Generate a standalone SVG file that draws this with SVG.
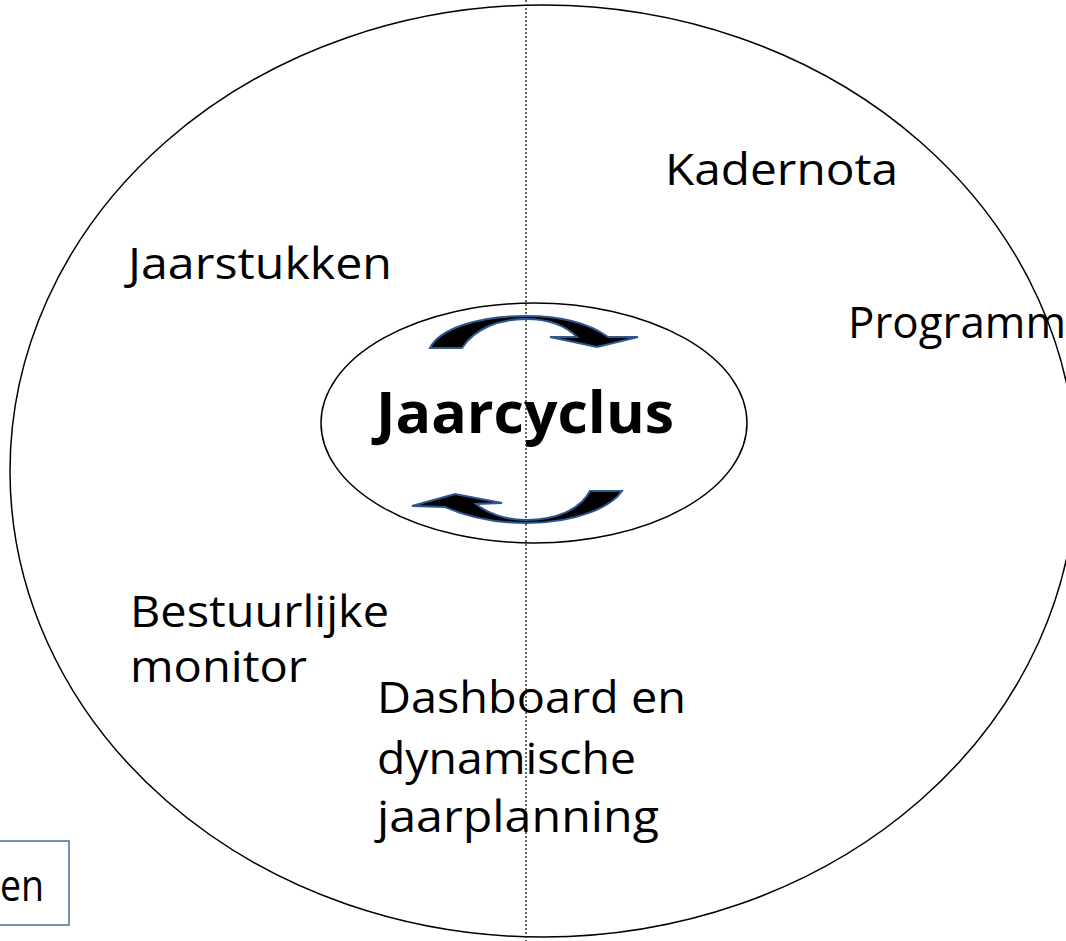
<svg xmlns="http://www.w3.org/2000/svg" width="1066" height="941" viewBox="0 0 1066 941">
<style>
.t{font-family:"Open Sans","Noto Sans","Liberation Sans",sans-serif;font-size:43px;fill:#000}
.b{font-family:"Open Sans","Noto Sans","Liberation Sans",sans-serif;font-size:58px;font-weight:bold;fill:#000}
.el{fill:none;stroke:#000;stroke-width:1.5}
.ar{fill:#000;stroke:#2f5890;stroke-width:2;stroke-linejoin:miter}
</style>
<rect width="1066" height="941" fill="#fff"/>
<g id="outer-cycle">
<ellipse class="el" cx="543" cy="471" rx="533" ry="466"/>
</g>
<g id="jaarcyclus">
<ellipse class="el" cx="534" cy="423" rx="213" ry="120" fill="#fff"/>
<text class="b" x="376" y="433" textLength="298" lengthAdjust="spacingAndGlyphs">Jaarcyclus</text>
</g>
<g id="connectors">
<line x1="526" y1="0" x2="526" y2="941" stroke="#333" stroke-width="1.5" stroke-dasharray="2,2"/>
<path class="ar" d="M430,348 L462,348 C475,328 500,319 526,319 C550,319 567,327 577,337 L550,337 L597,347 L638,337 L608,337 C590,324 565,316 526,316 C480,316 440,328 430,348 Z"/>
<path class="ar" d="M622,491 L590,491 C580,510 555,520 526,520 C505,520 487,513 476,504 L502,503 L455,494 L412,506 L445,507 C470,518 500,523 526,523 C578,523 612,506 622,491 Z"/>
</g>
<g id="kadernota"><text class="t" x="665" y="185" textLength="233" lengthAdjust="spacingAndGlyphs">Kadernota</text></g>
<g id="jaarstukken"><text class="t" x="128" y="279" textLength="264" lengthAdjust="spacingAndGlyphs">Jaarstukken</text></g>
<g id="programma"><text class="t" x="848" y="338" textLength="218" lengthAdjust="spacingAndGlyphs">Programm</text></g>
<g id="bestuurlijke-monitor">
<text class="t" x="130" y="627" textLength="259" lengthAdjust="spacingAndGlyphs">Bestuurlijke</text>
<text class="t" x="130" y="682" textLength="177" lengthAdjust="spacingAndGlyphs">monitor</text>
</g>
<g id="dashboard">
<text class="t" x="377" y="713" textLength="309" lengthAdjust="spacingAndGlyphs">Dashboard en</text>
<text class="t" x="377" y="774" textLength="259" lengthAdjust="spacingAndGlyphs">dynamische</text>
<text class="t" x="377" y="832" textLength="282" lengthAdjust="spacingAndGlyphs">jaarplanning</text>
</g>
<g id="en-box">
<rect x="-5" y="841" width="74" height="84" fill="#fff" stroke="#4a6b9a" stroke-width="1.5"/>
<text class="t" x="0" y="901" textLength="44" lengthAdjust="spacingAndGlyphs">en</text>
</g>
</svg>
